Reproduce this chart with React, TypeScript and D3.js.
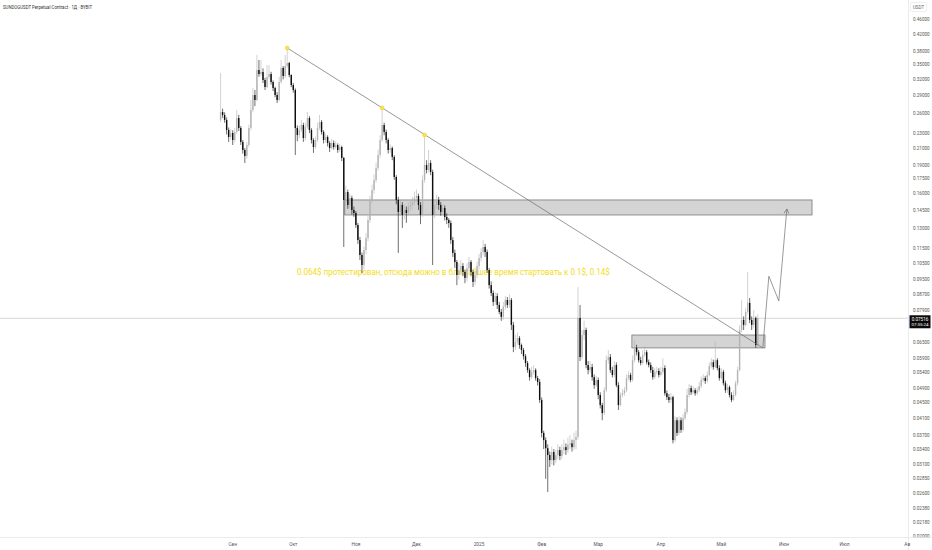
import React from "react";
import * as d3 from "d3";

// --- daily candles, SUNDOGUSDT (Bybit perpetual) ---
const firstDay = "2024-08-26";
const firstOpen = 0.2501;

const closes = [
  0.2625, 0.2578, 0.2501, 0.2354, 0.2256, 0.2312, 0.2215, 0.2326, 0.2531, 0.2383,
  0.2189, 0.2085, 0.2011, 0.2149, 0.2383, 0.2657, 0.2910, 0.2823, 0.3386, 0.3305,
  0.3346, 0.3187, 0.3055, 0.3246, 0.3305, 0.3149, 0.3037, 0.2910, 0.2823, 0.3149,
  0.3429, 0.3265, 0.3470, 0.3533, 0.3285, 0.3092, 0.3000, 0.2383, 0.2283, 0.2354,
  0.2426, 0.2242, 0.2397, 0.2531, 0.2354, 0.2215, 0.2123, 0.2215, 0.2383, 0.2471,
  0.2326, 0.2215, 0.2256, 0.2175, 0.2110, 0.2175, 0.2123, 0.2149, 0.2085, 0.2123,
  0.1987, 0.1540, 0.1616, 0.1494, 0.1559, 0.1449, 0.1423, 0.1323, 0.1208, 0.1103,
  0.1038, 0.1137, 0.1223, 0.1364, 0.1540, 0.1636, 0.1738, 0.1870, 0.2023, 0.2215,
  0.2426, 0.2326, 0.2215, 0.2085, 0.2110, 0.1999, 0.1770, 0.1540, 0.1432, 0.1494,
  0.1406, 0.1449, 0.1423, 0.1476, 0.1494, 0.1521, 0.1559, 0.1578, 0.1494, 0.1406,
  0.1738, 0.1904, 0.1847, 0.1927, 0.1825, 0.1406, 0.1494, 0.1540, 0.1494, 0.1432,
  0.1467, 0.1389, 0.1364, 0.1339, 0.1208, 0.1117, 0.1057, 0.0977, 0.1007, 0.1032,
  0.0995, 0.0960, 0.1019, 0.1057, 0.0995, 0.0937, 0.0977, 0.1032, 0.1083, 0.1123,
  0.1158, 0.1123, 0.1007, 0.0919, 0.0876, 0.0830, 0.0860, 0.0815, 0.0781, 0.0758,
  0.0806, 0.0840, 0.0815, 0.0840, 0.0722, 0.0631, 0.0651, 0.0667, 0.0639, 0.0620,
  0.0597, 0.0573, 0.0549, 0.0526, 0.0543, 0.0549, 0.0523, 0.0511, 0.0458, 0.0375,
  0.0359, 0.0342, 0.0328, 0.0318, 0.0334, 0.0318, 0.0328, 0.0338, 0.0326, 0.0338,
  0.0344, 0.0338, 0.0349, 0.0352, 0.0344, 0.0359, 0.0366, 0.0753, 0.0594, 0.0679,
  0.0700, 0.0566, 0.0549, 0.0559, 0.0526, 0.0501, 0.0517, 0.0472, 0.0444, 0.0423,
  0.0486, 0.0583, 0.0594, 0.0549, 0.0533, 0.0566, 0.0501, 0.0444, 0.0472, 0.0477,
  0.0486, 0.0523, 0.0533, 0.0517, 0.0583, 0.0628, 0.0612, 0.0583, 0.0573, 0.0601,
  0.0612, 0.0576, 0.0566, 0.0549, 0.0526, 0.0543, 0.0546, 0.0533, 0.0543, 0.0556,
  0.0477, 0.0466, 0.0458, 0.0466, 0.0359, 0.0405, 0.0375, 0.0405, 0.0382, 0.0410,
  0.0426, 0.0472, 0.0492, 0.0480, 0.0486, 0.0477, 0.0486, 0.0498, 0.0517, 0.0523,
  0.0514, 0.0533, 0.0563, 0.0576, 0.0559, 0.0583, 0.0556, 0.0523, 0.0543, 0.0507,
  0.0486, 0.0495, 0.0472, 0.0458, 0.0472, 0.0507, 0.0549, 0.0700, 0.0744, 0.0722,
  0.0781, 0.0825, 0.0744, 0.0722, 0.0753, 0.0639, 0.07516,
];

const highs = [
  0.3325, 0.2680, 0.2620, 0.2540, 0.2390, 0.2370, 0.2350, 0.2380, 0.2657, 0.2580,
  0.2410, 0.2215, 0.2110, 0.2190, 0.2430, 0.2823, 0.3037, 0.3000, 0.3709, 0.3598,
  0.3598, 0.3420, 0.3230, 0.3491, 0.3491, 0.3350, 0.3180, 0.3060, 0.2960, 0.3250,
  0.3598, 0.3470, 0.3709, 0.3870, 0.3560, 0.3300, 0.3130, 0.3030, 0.2420, 0.2420,
  0.2500, 0.2460, 0.2460, 0.2625, 0.2560, 0.2380, 0.2240, 0.2260, 0.2460, 0.2578,
  0.2500, 0.2350, 0.2300, 0.2280, 0.2200, 0.2230, 0.2210, 0.2200, 0.2170, 0.2160,
  0.2140, 0.2000, 0.1680, 0.1640, 0.1600, 0.1580, 0.1480, 0.1440, 0.1340, 0.1230,
  0.1120, 0.1160, 0.1260, 0.1400, 0.1580, 0.1690, 0.1800, 0.1930, 0.2090, 0.2280,
  0.2690, 0.2460, 0.2360, 0.2240, 0.2160, 0.2130, 0.2020, 0.1790, 0.1570, 0.1540,
  0.1520, 0.1500, 0.1480, 0.1520, 0.1540, 0.1570, 0.1620, 0.1640, 0.1600, 0.1520,
  0.1790, 0.2283, 0.1960, 0.2085, 0.1960, 0.1850, 0.1540, 0.1590, 0.1570, 0.1520,
  0.1500, 0.1490, 0.1420, 0.1380, 0.1360, 0.1230, 0.1140, 0.1070, 0.1050, 0.1070,
  0.1050, 0.1010, 0.1050, 0.1090, 0.1070, 0.1010, 0.1000, 0.1060, 0.1110, 0.1150,
  0.1208, 0.1180, 0.1140, 0.1020, 0.0940, 0.0890, 0.0880, 0.0875, 0.0830, 0.0795,
  0.0830, 0.0860, 0.0855, 0.0870, 0.0850, 0.0735, 0.0680, 0.0690, 0.0675, 0.0645,
  0.0628, 0.0605, 0.0580, 0.0555, 0.0560, 0.0565, 0.0555, 0.0530, 0.0520, 0.0465,
  0.0380, 0.0365, 0.0350, 0.0335, 0.0345, 0.0340, 0.0338, 0.0350, 0.0345, 0.0350,
  0.0360, 0.0352, 0.0365, 0.0370, 0.0360, 0.0375, 0.0380, 0.0908, 0.0815, 0.0700,
  0.0740, 0.0710, 0.0580, 0.0580, 0.0570, 0.0535, 0.0530, 0.0525, 0.0480, 0.0450,
  0.0495, 0.0600, 0.0620, 0.0605, 0.0560, 0.0580, 0.0575, 0.0510, 0.0480, 0.0490,
  0.0495, 0.0535, 0.0545, 0.0540, 0.0600, 0.0659, 0.0640, 0.0620, 0.0595, 0.0620,
  0.0635, 0.0620, 0.0585, 0.0575, 0.0560, 0.0555, 0.0560, 0.0555, 0.0560, 0.0590,
  0.0565, 0.0485, 0.0475, 0.0478, 0.0470, 0.0415, 0.0412, 0.0415, 0.0412, 0.0420,
  0.0435, 0.0490, 0.0505, 0.0500, 0.0498, 0.0492, 0.0495, 0.0510, 0.0528, 0.0535,
  0.0530, 0.0545, 0.0575, 0.0590, 0.0585, 0.0651, 0.0590, 0.0565, 0.0555, 0.0550,
  0.0515, 0.0505, 0.0500, 0.0480, 0.0485, 0.0515, 0.0560, 0.0720, 0.0840, 0.0760,
  0.0800, 0.0995, 0.0850, 0.0760, 0.0790, 0.0760, 0.0770,
];

const lows = [
  0.2470, 0.2530, 0.2460, 0.2290, 0.2190, 0.2220, 0.2149, 0.2180, 0.2300, 0.2340,
  0.2150, 0.2040, 0.1927, 0.1980, 0.2120, 0.2350, 0.2620, 0.2720, 0.2800, 0.3250,
  0.3270, 0.3130, 0.3000, 0.3030, 0.3200, 0.3100, 0.2980, 0.2870, 0.2772, 0.2800,
  0.3120, 0.3200, 0.3230, 0.3420, 0.3240, 0.3050, 0.2950, 0.2023, 0.2200, 0.2240,
  0.2320, 0.2190, 0.2210, 0.2370, 0.2310, 0.2170, 0.2048, 0.2100, 0.2190, 0.2350,
  0.2290, 0.2170, 0.2180, 0.2130, 0.2060, 0.2090, 0.2090, 0.2100, 0.2050, 0.2060,
  0.1950, 0.1158, 0.1490, 0.1460, 0.1460, 0.1410, 0.1390, 0.1300, 0.1180, 0.1070,
  0.0989, 0.1010, 0.1110, 0.1200, 0.1340, 0.1510, 0.1600, 0.1710, 0.1840, 0.1990,
  0.2190, 0.2280, 0.2170, 0.2040, 0.2050, 0.1960, 0.1740, 0.1500, 0.1117, 0.1400,
  0.1300, 0.1370, 0.1340, 0.1400, 0.1440, 0.1450, 0.1490, 0.1520, 0.1450, 0.1330,
  0.1390, 0.1710, 0.1810, 0.1820, 0.1790, 0.1038, 0.1380, 0.1460, 0.1450, 0.1400,
  0.1410, 0.1360, 0.1330, 0.1300, 0.1180, 0.1090, 0.1020, 0.0919, 0.0950, 0.0980,
  0.0970, 0.0930, 0.0940, 0.1000, 0.0970, 0.0908, 0.0920, 0.0960, 0.1010, 0.1060,
  0.1100, 0.1090, 0.0990, 0.0900, 0.0860, 0.0810, 0.0815, 0.0795, 0.0770, 0.0740,
  0.0745, 0.0790, 0.0800, 0.0800, 0.0700, 0.0612, 0.0620, 0.0640, 0.0625, 0.0605,
  0.0585, 0.0560, 0.0540, 0.0515, 0.0520, 0.0535, 0.0515, 0.0500, 0.0450, 0.0365,
  0.0340, 0.0284, 0.0262, 0.0305, 0.0310, 0.0308, 0.0312, 0.0320, 0.0318, 0.0320,
  0.0330, 0.0328, 0.0332, 0.0340, 0.0335, 0.0338, 0.0340, 0.0360, 0.0580, 0.0585,
  0.0660, 0.0555, 0.0535, 0.0540, 0.0515, 0.0490, 0.0495, 0.0460, 0.0435, 0.0405,
  0.0418, 0.0480, 0.0570, 0.0540, 0.0525, 0.0525, 0.0495, 0.0431, 0.0440, 0.0465,
  0.0470, 0.0480, 0.0515, 0.0510, 0.0512, 0.0575, 0.0600, 0.0575, 0.0565, 0.0568,
  0.0595, 0.0568, 0.0558, 0.0540, 0.0518, 0.0520, 0.0535, 0.0525, 0.0528, 0.0535,
  0.0470, 0.0458, 0.0450, 0.0450, 0.0352, 0.0355, 0.0368, 0.0370, 0.0375, 0.0378,
  0.0405, 0.0420, 0.0465, 0.0472, 0.0475, 0.0470, 0.0472, 0.0480, 0.0492, 0.0510,
  0.0505, 0.0508, 0.0528, 0.0555, 0.0550, 0.0555, 0.0548, 0.0515, 0.0518, 0.0500,
  0.0478, 0.0478, 0.0465, 0.0452, 0.0455, 0.0468, 0.0500, 0.0545, 0.0690, 0.0700,
  0.0715, 0.0770, 0.0730, 0.0700, 0.0710, 0.0628, 0.0625,
];

const lastPrice = 0.07516;
const lastPriceTimer = "07:35:24";

const priceTicks = [
  0.46, 0.42, 0.38, 0.35, 0.32, 0.29, 0.26, 0.23, 0.21, 0.19, 0.175, 0.16, 0.145,
  0.13, 0.115, 0.105, 0.095, 0.087, 0.079, 0.065, 0.059, 0.054, 0.049, 0.045,
  0.041, 0.037, 0.034, 0.031, 0.0285, 0.026, 0.0238, 0.0218, 0.02,
];

const monthTicks = ["2024-09-01", "2024-10-01", "2024-11-01", "2024-12-01", "2025-01-01", "2025-02-01",
  "2025-03-01", "2025-04-01", "2025-05-01", "2025-06-01", "2025-07-01", "2025-08-01"];
const monthLabels = ["Сен", "Окт", "Ноя", "Дек", "2025", "Фев", "Мар", "Апр", "Май", "Июн", "Июл", "Ав"];

// drawings
const trendLine = [
  { date: "2024-09-28T00:00:00Z", price: 0.387 },
  { date: "2025-05-21T12:00:00Z", price: 0.0628 },
];
const pivots = [
  { date: "2024-09-28T00:00:00Z", price: 0.387 },
  { date: "2024-11-14T00:00:00Z", price: 0.269 },
  { date: "2024-12-05T00:00:00Z", price: 0.2283 },
];
const zones = [
  { from: "2024-10-26T12:00:00Z", to: "2025-06-14T21:00:00Z", top: 0.154, bottom: 0.1406 },
  { from: "2025-03-17T16:00:00Z", to: "2025-05-22T14:00:00Z", top: 0.0679, bottom: 0.0628 },
];
const pathPoints = [
  { date: "2025-05-21T12:00:00Z", price: 0.0628 },
  { date: "2025-05-24T12:00:00Z", price: 0.097 },
  { date: "2025-05-29T10:00:00Z", price: 0.0835 },
  { date: "2025-06-02T10:00:00Z", price: 0.1458 },
];
const note = {
  date: "2024-10-02T19:00:00Z",
  price: 0.098,
  text: "0.064$ протестирован, отсюда можно в ближайшее время стартовать к 0.1$, 0.14$",
};

const W = 932;
const H = 550;
const PLOT_R = 908;
const PLOT_B = 537;
const FONT = "Roboto, 'Liberation Sans', Arial, sans-serif";
const UP = "#b3b3b3";
const DOWN = "#0d0d0d";

export default function App() {
  const x = d3.scaleUtc()
    .domain([new Date("2024-09-01T00:00:00Z"), new Date("2025-08-01T00:00:00Z")])
    .range([232.7, 907.2]);
  const y = d3.scaleLog().domain([0.46, 0.02]).range([19.5, 536.6]);

  const start = new Date(firstDay + "T00:00:00Z");
  const candles = closes.map((c, i) => ({
    date: d3.utcDay.offset(start, i),
    open: i === 0 ? firstOpen : closes[i - 1],
    close: c,
    high: highs[i],
    low: lows[i],
  }));

  const px = (p: { date: string; price: number }): [number, number] => [x(new Date(p.date)), y(p.price)];

  const line = d3.line();
  const arrowPts = pathPoints.map(px);
  const tip = arrowPts[arrowPts.length - 1];
  const prev = arrowPts[arrowPts.length - 2];
  const ang = Math.atan2(tip[1] - prev[1], tip[0] - prev[0]);
  const headLen = 5;
  const head: [number, number][] = [
    [tip[0] - headLen * Math.cos(ang - 0.5), tip[1] - headLen * Math.sin(ang - 0.5)],
    tip,
    [tip[0] - headLen * Math.cos(ang + 0.5), tip[1] - headLen * Math.sin(ang + 0.5)],
  ];

  const [nx, ny] = px(note);
  const lastY = y(lastPrice);

  return (
    <div style={{ position: "fixed", left: 0, top: 0, width: W, height: H, background: "#fff" }}>
      <svg width={W} height={H} style={{ display: "block", fontFamily: FONT }}>
        <rect width={W} height={H} fill="#fff" />
        <defs>
          <clipPath id="plot">
            <rect x={0} y={0} width={PLOT_R} height={PLOT_B} />
          </clipPath>
        </defs>

        <g clipPath="url(#plot)">
          {/* note text sits under the candles */}
          <text x={nx} y={ny} fontSize={9} fill="#f2dc22" textLength={313} lengthAdjust="spacingAndGlyphs">
            {note.text}
          </text>

          {/* zones */}
          {zones.map((z, i) => (
            <rect key={i}
              x={x(new Date(z.from))}
              y={y(z.top)}
              width={x(new Date(z.to)) - x(new Date(z.from))}
              height={y(z.bottom) - y(z.top)}
              fill="rgba(160,160,160,0.45)"
              stroke="#7a7a7a"
              strokeWidth={0.8}
            />
          ))}

          {/* last price line */}
          <line x1={0} x2={PLOT_R} y1={lastY} y2={lastY} stroke="#c4c4c4" strokeWidth={0.7} />

          {/* candles */}
          {candles.map((c, i) => {
            const cx = x(c.date);
            const up = c.close >= c.open;
            const col = up ? UP : DOWN;
            const yo = y(c.open);
            const yc = y(c.close);
            const top = Math.min(yo, yc);
            const hgt = Math.max(0.7, Math.abs(yo - yc));
            return (
              <g key={i}>
                <line x1={cx} x2={cx}
                  y1={Math.min(y(c.high), top)} y2={Math.max(y(c.low), top + hgt)}
                  stroke={col} strokeWidth={0.6} />
                <rect x={cx - 0.7} width={1.4} y={top} height={hgt} fill={col} />
              </g>
            );
          })}

          {/* trend line */}
          <path d={line(trendLine.map(px)) || ""} fill="none" stroke="#6b6b6b" strokeWidth={0.7} />
          {pivots.map((p, i) => {
            const [cx, cy] = px(p);
            return <circle key={i} cx={cx} cy={cy} r={2} fill="#f7e34a" stroke="#f2d21b" strokeWidth={0.5} />;
          })}

          {/* projected path */}
          <path d={line(arrowPts) || ""} fill="none" stroke="#6e6e6e" strokeWidth={0.7} />
          <path d={line(head) || ""} fill="none" stroke="#6e6e6e" strokeWidth={0.7} />
        </g>

        {/* title */}
        <text x={3} y={9} fontSize={4.8} fill="#333" textLength={89} lengthAdjust="spacingAndGlyphs">
          SUNDOGUSDT Perpetual Contract · 1Д · BYBIT
        </text>

        {/* price axis */}
        <line x1={PLOT_R + 0.5} x2={PLOT_R + 0.5} y1={0} y2={H} stroke="#e6e6e6" strokeWidth={0.8} />
        <rect x={910.5} y={2.5} width={16} height={9} rx={1} fill="#fff" stroke="#e3e3e3" strokeWidth={0.6} />
        <text x={918.5} y={8.6} fontSize={4.5} fill="#666" textAnchor="middle">USDT</text>
        {priceTicks.map((t) => (
          <text key={t} x={913} y={y(t)} dy="0.35em" fontSize={4.6} fill="#555">
            {t.toFixed(5)}
          </text>
        ))}
        <rect x={909.5} y={lastY - 3} width={21} height={13} fill="#0b0b0b" />
        <text x={920} y={lastY + 2.3} fontSize={4.6} fill="#fff" textAnchor="middle">{lastPrice.toFixed(5)}</text>
        <text x={920} y={lastY + 7.6} fontSize={4.4} fill="#fff" textAnchor="middle">{lastPriceTimer}</text>

        {/* time axis */}
        <line x1={0} x2={W} y1={PLOT_B + 0.5} y2={PLOT_B + 0.5} stroke="#e6e6e6" strokeWidth={0.8} />
        {monthTicks.map((m, i) => (
          <text key={m} x={x(new Date(m + "T00:00:00Z"))} y={546} fontSize={4.8} fill="#555" textAnchor="middle">
            {monthLabels[i]}
          </text>
        ))}
      </svg>
    </div>
  );
}
